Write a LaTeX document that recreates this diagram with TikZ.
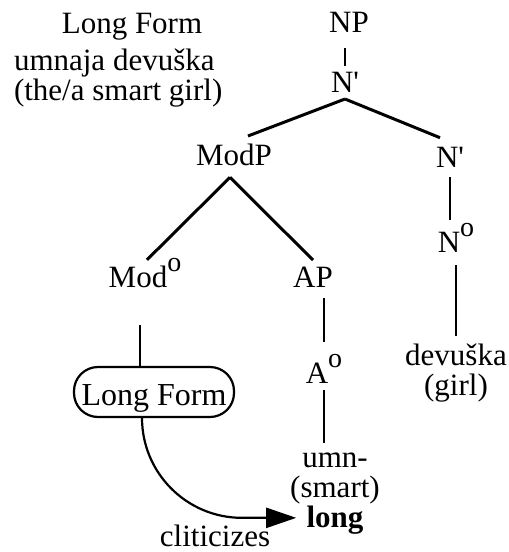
\documentclass[tikz,border=0pt]{standalone}
\usepackage{fontspec}
\setmainfont{Liberation Serif}
\usepackage{tikz}
\usetikzlibrary{arrows.meta}
% raised o for the head labels
\newcommand{\supo}{\raisebox{16pt}{\fontsize{28}{28}\selectfont o}}

\begin{document}
\begin{tikzpicture}[x=1pt, y=-1pt,
    every node/.style={inner sep=0pt, outer sep=0pt, font=\fontsize{31}{30}\selectfont},
    lbl/.style={anchor=base},
    branch/.style={line width=3pt},
    stem/.style={line width=2.5pt},
    clitic/.style={line width=2.2pt, rounded corners=100pt, -{Triangle[length=30pt,width=20pt]}}]
  \useasboundingbox (0,0) rectangle (509,552);

  % heading and gloss (base of a multi-line node is its last line)
  \node[lbl]                          (title)   at (132, 33)   {Long Form};
  \node[lbl, align=left, anchor=base west] (gloss) at (14,100) {umnaja devuška\\(the/a smart girl)};

  % tree
  \node[lbl]                          (np)      at (349, 32)   {NP};
  \node[lbl]                          (nbar)    at (345, 92)   {N\textquotesingle};
  \node[lbl]                          (modp)    at (234,165)   {ModP};
  \node[lbl]                          (nbarb)   at (450,167)   {N\textquotesingle};
  \node[lbl]                          (nh)      at (456,252)   {N\supo};
  \node[lbl]                          (modh)    at (145,287)   {Mod\supo};
  \node[lbl]                          (ap)      at (313,287)   {AP};
  \node[lbl]                          (ah)      at (324,383)   {A\supo};
  \node[lbl, align=center]            (devuska) at (456,395)   {devuška\\(girl)};
  \node[lbl, align=center]            (umn)     at (335,527)   {umn-\\(smart)\\\textbf{long}};
  \node[draw, line width=2.2pt, rounded corners=24pt, minimum width=160pt, minimum height=50pt,
        text height=27pt, text depth=0pt, font=\fontsize{32}{32}\selectfont] (oval) at (154,392) {Long Form};
  \node[lbl]                          (clit)    at (215,546.5) {cliticizes};

  % branches
  \draw[stem, shorten <=16pt, shorten >=6pt] (np.south -| nbar.north) -- (nbar.north);
  \draw[branch] ([yshift=-7pt]nbar.south) -- ([xshift=14pt,yshift=7.5pt]modp.north);
  \draw[branch] ([yshift=-7pt]nbar.south) -- ([xshift=-10pt,yshift=9pt]nbarb.north);
  \draw[branch] ([xshift=-4pt,yshift=-12pt]modp.south) -- ([xshift=2pt,yshift=-2pt]modh.north);
  \draw[branch] ([xshift=-4pt,yshift=-12pt]modp.south) -- ([yshift=6.5pt]ap.north);
  \draw[stem, shorten <=10pt, shorten >=3pt] (nbarb.south) -- (nbarb.south |- nh.north);
  \draw[stem, shorten <=13pt, shorten >=7pt] (devuska.north |- nh.south) -- (devuska.north);
  \draw[stem, shorten <=11pt, shorten >=12pt] (ah.north |- ap.south) -- (ah.north);
  \draw[stem, shorten <=7pt, shorten >=9pt] (ah.south) -- (ah.south |- umn.north);
  \draw[stem, shorten <=38pt] ([xshift=-14pt]oval.north |- modh.south) -- ([xshift=-14pt]oval.north);

  % clitic movement
  \draw[clitic] ([xshift=-12pt]oval.south) |- ([shift={(6pt,16pt)}]umn.south west);
\end{tikzpicture}
\end{document}
